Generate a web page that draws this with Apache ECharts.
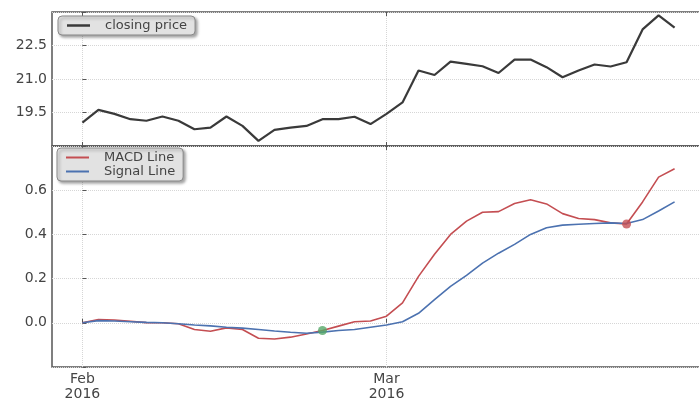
<!DOCTYPE html>
<html>
<head>
<meta charset="utf-8">
<script src="https://cdn.jsdelivr.net/npm/echarts@6.0.0/dist/echarts.min.js"></script>
<style>
  html, body { margin: 0; padding: 0; background: #ffffff; }
  #chart { width: 699px; height: 398px; }
</style>
</head>
<body>
<div id="chart"></div>
<script>
// ---- data ----
const tickPositions = [0, 19];
const tickLabels = ['Feb\n2016', 'Mar\n2016'];

const closePrice = [19.05, 19.62, 19.44, 19.20, 19.13, 19.32, 19.13, 18.75, 18.82, 19.32,
  18.90, 18.23, 18.72, 18.82, 18.90, 19.20, 19.20, 19.31, 18.98, 19.44,
  19.95, 21.38, 21.18, 21.78, 21.68, 21.57, 21.27, 21.87, 21.87, 21.53,
  21.08, 21.38, 21.65, 21.56, 21.75, 23.22, 23.85, 23.30];

const macdLine = [0.0, 0.015, 0.013, 0.007, 0.001, 0.0, -0.004, -0.03, -0.038, -0.023,
  -0.03, -0.07, -0.073, -0.065, -0.051, -0.035, -0.015, 0.005, 0.008, 0.03,
  0.09, 0.21, 0.31, 0.40, 0.46, 0.50, 0.503, 0.54, 0.557, 0.538,
  0.494, 0.472, 0.467, 0.452, 0.447, 0.547, 0.659, 0.697];

const signalLine = [0.0, 0.01, 0.008, 0.005, 0.002, 0.0, -0.004, -0.01, -0.014, -0.02,
  -0.024, -0.03, -0.037, -0.043, -0.047, -0.042, -0.035, -0.03, -0.02, -0.01,
  0.005, 0.043, 0.105, 0.165, 0.215, 0.27, 0.315, 0.355, 0.40, 0.43,
  0.442, 0.446, 0.449, 0.452, 0.449, 0.467, 0.506, 0.547];

const crossIndices = [15, 34];
const crossTypes = ['buy', 'sell'];

// ---- chart ----
const fontFamily = 'DejaVu Sans';
const frameColor = '#555555';
const gridLine = { show: true, lineStyle: { color: '#d6d6d6', type: 'dotted', width: 1 } };
const xMin = -1.9, xMax = 38.9;

function xAxisDef(gridIndex, position, showLabels) {
  return {
    gridIndex: gridIndex, type: 'value', position: position, min: xMin, max: xMax,
    axisLine: { show: false },
    axisTick: { show: true, inside: true, length: 4, customValues: tickPositions,
      lineStyle: { color: frameColor, width: 1 } },
    axisLabel: { show: showLabels, customValues: tickPositions, margin: 5,
      fontFamily: fontFamily, fontSize: 14, color: '#444', lineHeight: 15,
      formatter: function (v) {
        const k = tickPositions.indexOf(Math.round(v));
        return k >= 0 ? tickLabels[k] : '';
      } },
    splitLine: position === 'bottom' ? gridLine : { show: false }
  };
}

function yLabelFmt(lo, hi) {
  return function (v) {
    if (Math.abs(v - lo) < 1e-6 || Math.abs(v - hi) < 1e-6) return '';
    if (Math.abs(v) < 1e-9) v = 0;
    return v.toFixed(1);
  };
}

const chart = echarts.init(document.getElementById('chart'), null, { renderer: 'canvas' });
chart.setOption({
  animation: false,
  backgroundColor: '#ffffff',
  grid: [
    { left: 52, top: 12, width: 653, height: 134, show: true, borderColor: frameColor, borderWidth: 1.5,
      containLabel: false, outerBoundsMode: 'none' },
    { left: 52, top: 146, width: 653, height: 221, show: true, borderColor: frameColor, borderWidth: 1.5,
      containLabel: false, outerBoundsMode: 'none' }
  ],
  xAxis: [
    xAxisDef(0, 'bottom', false),
    xAxisDef(0, 'top', false),
    xAxisDef(1, 'bottom', true),
    xAxisDef(1, 'top', false)
  ],
  yAxis: [
    { gridIndex: 0, type: 'value', min: 18, max: 24, interval: 1.5,
      axisLine: { show: false },
      axisTick: { show: true, inside: true, length: 4, lineStyle: { color: frameColor } },
      axisLabel: { fontFamily: fontFamily, fontSize: 14, color: '#444', margin: 5, formatter: yLabelFmt(18, 24) },
      splitLine: gridLine },
    { gridIndex: 1, type: 'value', min: -0.2, max: 0.8, interval: 0.2,
      axisLine: { show: false },
      axisTick: { show: true, inside: true, length: 4, lineStyle: { color: frameColor } },
      axisLabel: { fontFamily: fontFamily, fontSize: 14, color: '#444', margin: 5, formatter: yLabelFmt(-0.2, 0.8) },
      splitLine: gridLine }
  ],
  legend: [
    { data: ['closing price'], left: 58, top: 16, orient: 'horizontal', selectedMode: false,
      backgroundColor: '#e2e2e2', borderColor: '#8a8a8a', borderWidth: 1, borderRadius: 4,
      padding: [3, 8, 3, 9], itemWidth: 23, itemHeight: 2.5, icon: 'rect',
      shadowBlur: 3, shadowOffsetX: 2, shadowOffsetY: 2, shadowColor: 'rgba(0,0,0,0.35)',
      textStyle: { fontFamily: fontFamily, fontSize: 13, color: '#444', padding: [0, 0, 0, 10] } },
    { data: ['MACD Line', 'Signal Line'], left: 57, top: 148, orient: 'vertical', selectedMode: false,
      itemGap: 1,
      backgroundColor: '#e2e2e2', borderColor: '#8a8a8a', borderWidth: 1, borderRadius: 4,
      padding: [3, 8, 3, 9], itemWidth: 23, itemHeight: 2, icon: 'rect',
      shadowBlur: 3, shadowOffsetX: 2, shadowOffsetY: 2, shadowColor: 'rgba(0,0,0,0.35)',
      textStyle: { fontFamily: fontFamily, fontSize: 13, color: '#444', padding: [0, 0, 0, 10] } }
  ],
  series: [
    { type: 'line', name: 'closing price', xAxisIndex: 0, yAxisIndex: 0,
      data: closePrice.map(function (v, i) { return [i, v]; }),
      symbol: 'none', lineStyle: { color: '#3a3a3a', width: 2.2 }, itemStyle: { color: '#3a3a3a' } },
    { type: 'line', name: 'MACD Line', xAxisIndex: 2, yAxisIndex: 1,
      data: macdLine.map(function (v, i) { return [i, v]; }),
      symbol: 'none', lineStyle: { color: '#c44e52', width: 1.6 }, itemStyle: { color: '#c44e52' } },
    { type: 'line', name: 'Signal Line', xAxisIndex: 2, yAxisIndex: 1,
      data: signalLine.map(function (v, i) { return [i, v]; }),
      symbol: 'none', lineStyle: { color: '#4c72b0', width: 1.6 }, itemStyle: { color: '#4c72b0' } },
    { type: 'scatter', name: 'crossover', xAxisIndex: 2, yAxisIndex: 1, z: 5,
      symbolSize: 9,
      data: crossIndices.map(function (idx, k) {
        return { value: [idx, macdLine[idx]],
          itemStyle: { color: crossTypes[k] === 'buy' ? '#55a868' : '#c44e52' } };
      }) }
  ]
});
</script>
</body>
</html>
